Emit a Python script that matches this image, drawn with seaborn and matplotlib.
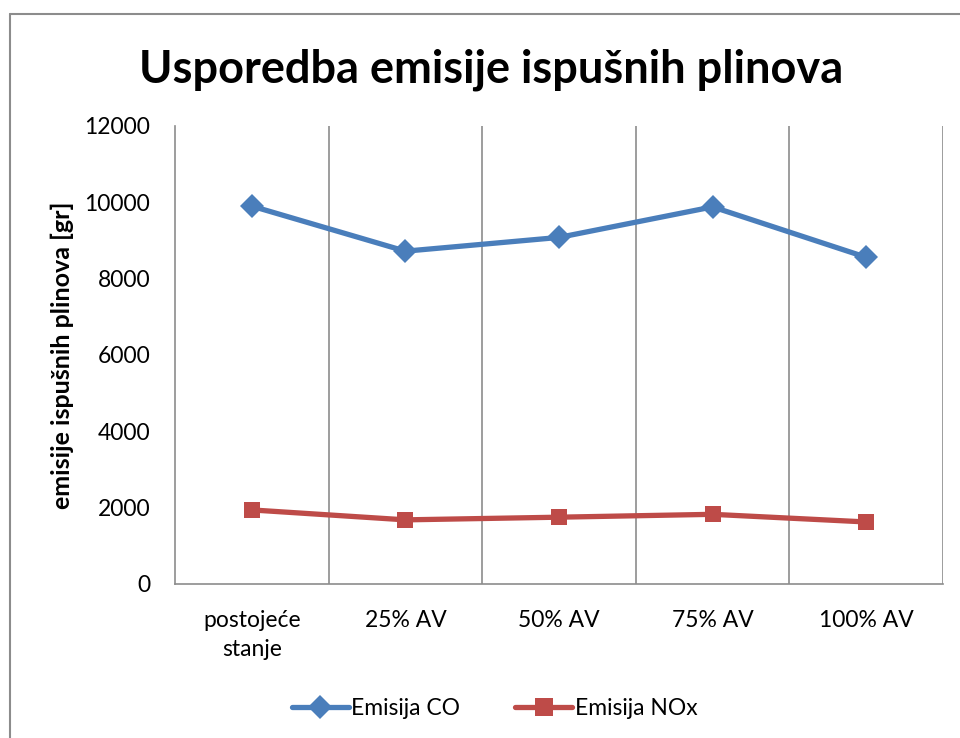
import pandas as pd
import seaborn as sns
import matplotlib.pyplot as plt
from matplotlib.lines import Line2D

# Data
categories = ['postojeće\nstanje', '25% AV', '50% AV', '75% AV', '100% AV']
co_values = [9900, 8720, 9080, 9880, 8560]
nox_values = [1940, 1680, 1750, 1825, 1625]
series_names = ['Emisija CO', 'Emisija NOx']

df = pd.DataFrame({
  'kategorija': list(range(len(categories))) * 2,
  'emisija': co_values + nox_values,
  'serija': [series_names[0]] * len(categories) + [series_names[1]] * len(categories),
})

sns.set_style('white')
plt.rcParams['font.family'] = ['Lato', 'DejaVu Sans']
plt.rcParams['text.color'] = 'black'
plt.rcParams['xtick.color'] = 'black'
plt.rcParams['ytick.color'] = 'black'
plt.rcParams['axes.labelcolor'] = 'black'

fig = plt.figure(figsize=(9.6, 7.38), dpi=100)
ax = fig.add_axes([0.1823, 0.2087, 0.8, 0.6206])

sns.lineplot(data=df, x='kategorija', y='emisija', hue='serija', style='serija',
             palette=['#4A7EBB', '#BE4B48'], markers=['D', 's'], dashes=False,
             linewidth=3.8, markersize=12.5, markeredgewidth=0, ax=ax)
# square markers are a bit smaller than the diamonds
ax.lines[1].set_markersize(11)

ax.set_xlim(-0.5, len(categories) - 0.5)
ax.set_ylim(0, 12000)
ax.set_yticks(range(0, 12001, 2000))
ax.set_xticks(range(len(categories)))
ax.set_xticklabels(categories, fontsize=16.5, linespacing=1.45)
ax.tick_params(axis='y', labelsize=16.5, length=0, pad=18)
ax.tick_params(axis='x', length=0, pad=19)

# vertical gridlines between categories
for b in [i + 0.5 for i in range(len(categories))]:
  ax.axvline(b, color='#8C8C8C', lw=1.2, zorder=0)

for side in ['top', 'right']:
  ax.spines[side].set_visible(False)
for side in ['left', 'bottom']:
  ax.spines[side].set_color('#8C8C8C')
  ax.spines[side].set_linewidth(1.2)

ax.set_xlabel('')
ax.set_ylabel('emisije ispušnih plinova [gr]', fontsize=18, fontweight='bold', labelpad=7)

fig.text(0.512, 0.905, 'Usporedba emisije ispušnih plinova', fontsize=32.5,
         fontweight='bold', ha='center', va='center')

ax.get_legend().remove()
handles, labels = ax.get_legend_handles_labels()
fig.legend(handles, labels, loc='center', bbox_to_anchor=(0.515, 0.04), ncol=2,
           frameon=False, fontsize=16.5, handlelength=2.5, handletextpad=0.1,
           columnspacing=2.4)

# chart frame (left and top edges visible)
fig.add_artist(Line2D([0.0104, 0.0104], [0.0, 0.981], transform=fig.transFigure,
                      color='#8C8C8C', lw=1.5))
fig.add_artist(Line2D([0.0104, 1.0], [0.981, 0.981], transform=fig.transFigure,
                      color='#8C8C8C', lw=1.5))

fig.savefig('out.png', dpi=100)
